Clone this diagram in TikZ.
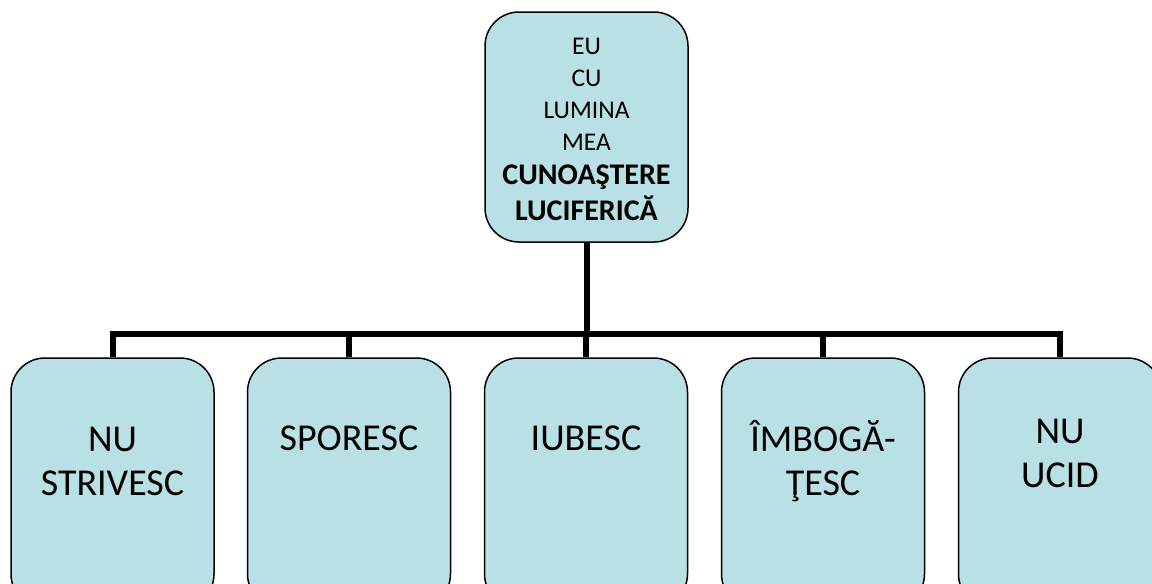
\documentclass[tikz,border=0pt]{standalone}
\usepackage{fontspec}
\setmainfont{Carlito}
\definecolor{boxfill}{RGB}{185,224,228}

\tikzset{
  box/.style={draw=black, line width=1.5pt, fill=boxfill, rounded corners=34pt,
    minimum width=203pt, inner sep=0pt},
  conn/.style={line width=6pt, black},
  word/.style={align=center, font=\fontsize{38}{44}\selectfont, inner sep=0pt}
}

\begin{document}
\begin{tikzpicture}[x=1pt, y=-1pt]

    % --- Frame (pixel units, y down) ---
    \useasboundingbox (0,0) rectangle (1152,584);
    \clip (0,0) rectangle (1152,584);

    % --- Top box ---
    \node[box, minimum height=230pt] (top) at (586.5,127) {};
    \node[align=center, inner sep=0pt, font=\fontsize{25.5}{32}\selectfont] (toptext) at (586.5,129)
      {EU\\CU\\LUMINA\\MEA\\[2pt]
       {\bfseries\fontsize{30}{37}\selectfont CUNOAŞTERE}\\[4pt]
       {\bfseries\fontsize{30}{37}\selectfont LUCIFERICĂ}};

    % --- Bottom boxes ---
    \node[box, minimum height=250pt] (b1) at (112.5,483) {};
    \node[box, minimum height=250pt] (b2) at (349,483) {};
    \node[box, minimum height=250pt] (b3) at (586,483) {};
    \node[box, minimum height=250pt] (b4) at (823,483) {};
    \node[box, minimum height=250pt] (b5) at (1060,483) {};

    % --- Labels in the bottom boxes ---
    \node[word] (t1) at (112.5,461) {NU\\STRIVESC};
    \node[word] (t2) at (349,438) {SPORESC};
    \node[word] (t3) at (586,438) {IUBESC};
    \node[word] (t4) at (823,461) {ÎMBOGĂ-\\ŢESC};
    \node[word] (t5) at (1060,453) {NU\\UCID};

    % --- Connectors ---
    \coordinate (busR) at (1060,334);
    \draw[conn] (top.south) -- (top.south |- busR);
    \draw[conn] (b1.north) |- (busR) -- (b5.north);
    \foreach \i in {2,3,4}
      \draw[conn] (b\i.north) -- (b\i.north |- busR);

\end{tikzpicture}
\end{document}
